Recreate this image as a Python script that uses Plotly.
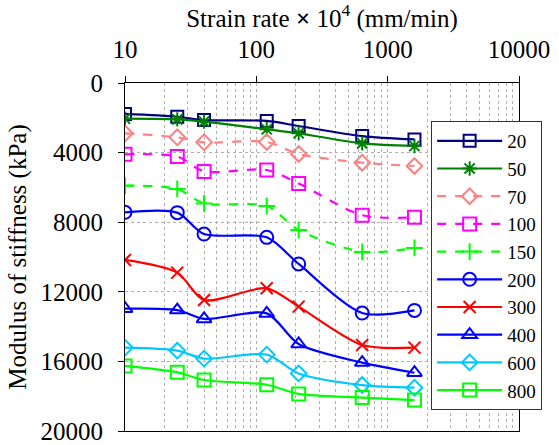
import plotly.graph_objects as go

strain_rate = [10, 25, 40, 120, 210, 640, 1600]
series_names = ["20", "50", "70", "100", "150", "200", "300", "400", "600", "800"]
s20 = [1780, 1940, 2130, 2180, 2470, 3050, 3240]
s50 = [2050, 2090, 2220, 2660, 2890, 3470, 3620]
s70 = [2890, 3120, 3410, 3390, 4080, 4580, 4770]
s100 = [4100, 4230, 5080, 5000, 5770, 7600, 7720]
s150 = [5900, 6090, 6920, 7070, 8450, 9710, 9480]
s200 = [7430, 7450, 8680, 8870, 10400, 13220, 13070]
s300 = [10170, 10900, 12470, 11800, 12850, 15060, 15210]
s400 = [12970, 13050, 13560, 13240, 15000, 16070, 16650]
s600 = [15210, 15380, 15840, 15610, 16690, 17360, 17510]
s800 = [16260, 16630, 17070, 17340, 17870, 18080, 18220]
all_values = [s20, s50, s70, s100, s150, s200, s300, s400, s600, s800]

colors = ["#000080", "#008000", "#FF8080", "#FF00FF", "#00FF00",
          "#0000FF", "#FF0000", "#0000FF", "#00C8FF", "#00FF00"]
symbols = ["square-open", "asterisk-open", "diamond-open", "square-open", "cross-thin-open",
           "circle-open", "x-thin-open", "triangle-up-open", "diamond-open", "square-open"]
dashes = ["solid", "solid", "dash", "dash", "dash", "solid", "solid", "solid", "solid", "solid"]
sizes = [12, 12, 12, 13, 12, 13, 12, 13, 12, 13]

y_ticks = [0, 4000, 8000, 12000, 16000, 20000]
x_ticks = [10, 100, 1000, 10000]
minor_x = [m * d for d in (10, 100, 1000) for m in range(2, 10)]

fig = go.Figure()
for name, vals, c, sym, dsh, sz in zip(series_names, all_values, colors, symbols, dashes, sizes):
    fig.add_trace(go.Scatter(
        x=strain_rate, y=vals, name=name, mode="lines+markers",
        line=dict(color=c, width=2.2, dash=dsh, shape="spline", smoothing=0.8),
        marker=dict(symbol=sym, size=sz, color=c, line=dict(color=c, width=2)),
    ))

font_family = "Liberation Serif, Times New Roman, DejaVu Serif, serif"
fig.update_layout(
    template="none",
    width=559, height=445,
    margin=dict(l=125, r=40, t=83, b=14),
    paper_bgcolor="white", plot_bgcolor="white",
    font=dict(family=font_family, size=25, color="black"),
    showlegend=True,
    legend=dict(x=0.777, y=0.891, xanchor="left", yanchor="top",
                bgcolor="white", bordercolor="#333", borderwidth=1,
                font=dict(family=font_family, size=19, color="black"),
                itemwidth=65, tracegroupgap=0),
)
fig.update_xaxes(
    type="log", range=[1, 4], side="top",
    tickvals=x_ticks, ticktext=[str(v) for v in x_ticks],
    ticks="outside", ticklen=6, tickcolor="black", ticklabelstandoff=8,
    showline=True, linecolor="black", linewidth=1, mirror=True,
    showgrid=True, gridcolor="#b0b0b0", griddash="dot", gridwidth=1,
    minor=dict(tickvals=minor_x, showgrid=True, gridcolor="#b0b0b0", griddash="dot", ticks=""),
    zeroline=False,
    title=dict(text="Strain rate <b>×</b> 10<sup>4</sup> (mm/min)",
               font=dict(family=font_family, size=25, color="black"), standoff=4),
    tickfont=dict(family=font_family, size=25, color="black"),
)
fig.update_yaxes(
    range=[20000, 0], tickvals=y_ticks, ticktext=[str(v) for v in y_ticks],
    ticks="outside", ticklen=6, tickcolor="black", ticklabelstandoff=10,
    showline=True, linecolor="black", linewidth=1, mirror=True,
    showgrid=True, gridcolor="#b0b0b0", griddash="dot", gridwidth=1,
    zeroline=False,
    title=dict(text="Modulus of stiffness (kPa)",
               font=dict(family=font_family, size=25, color="black"), standoff=6),
    tickfont=dict(family=font_family, size=25, color="black"),
)
fig.write_html("out.html", config={"displayModeBar": False},
               post_script="document.body.style.margin='0';")
